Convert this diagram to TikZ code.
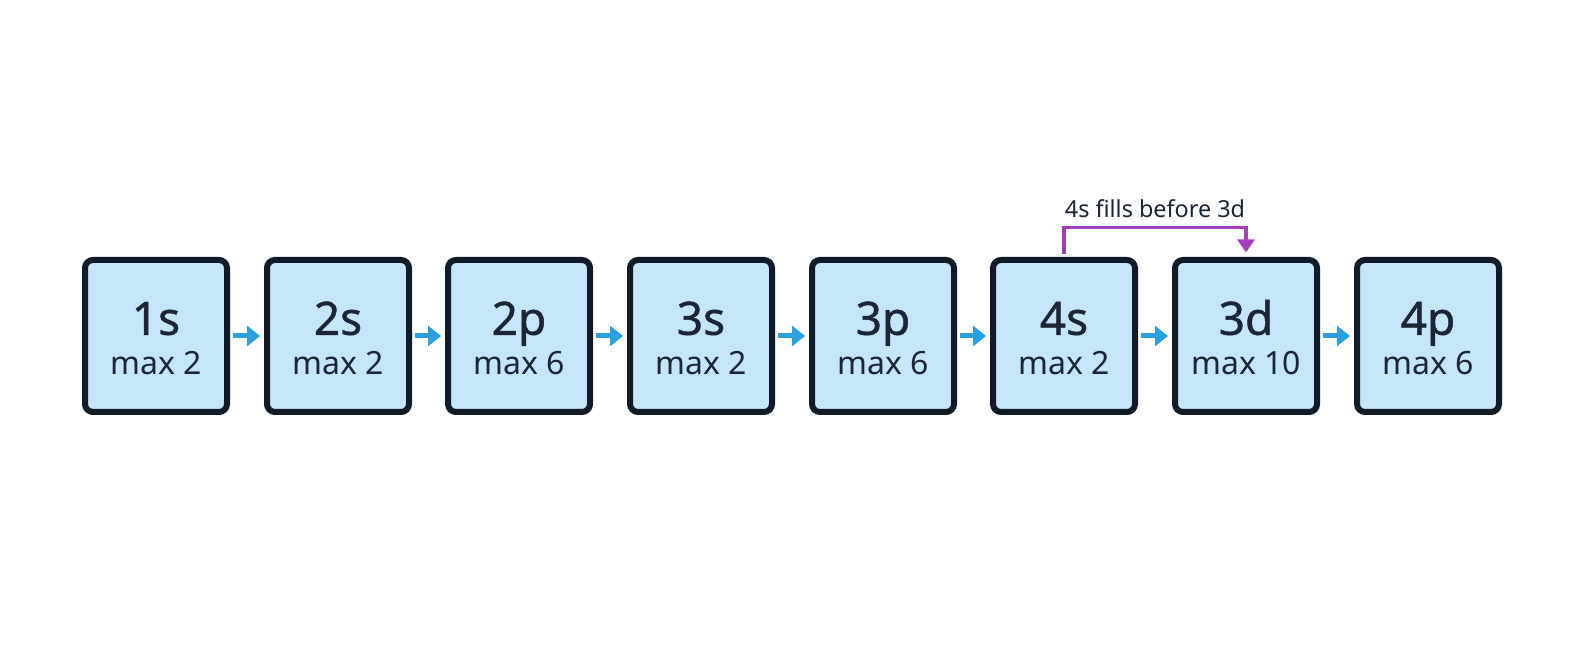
\documentclass[tikz,border=0pt]{standalone}
\usepackage{fontspec}
\usetikzlibrary{arrows.meta}

\setmainfont{Noto Sans}
\IfFontExistsTF{Noto Sans SemiBold}{\newfontfamily\medfont{Noto Sans SemiBold}}{%
	\IfFontExistsTF{Open Sans SemiBold}{\newfontfamily\medfont{Open Sans SemiBold}}{%
		\newfontfamily\medfont{Noto Sans}[FakeBold=0.9]}}

\definecolor{boxfill}{HTML}{C5E5F9}
\definecolor{boxline}{HTML}{101B2A}
\definecolor{flowblue}{HTML}{2AA0DC}
\definecolor{skippurple}{HTML}{A73BBD}
\definecolor{textdark}{HTML}{1B2535}

\newcommand\orb[2]{\rule{0pt}{19pt}{\medfont\fontsize{23}{25}\selectfont #1}\\max #2}

\tikzset{
	orbital/.style={draw=boxline, fill=boxfill, line width=3pt, rounded corners=4pt,
		minimum width=71pt, minimum height=76pt, inner sep=0pt, align=center,
		text=textdark, font=\fontsize{16}{20}\selectfont},
	flow/.style={flowblue, line width=2.5pt, -{Triangle[length=6.5pt,width=10pt]},
		shorten <=1.5pt, shorten >=2pt},
	skip/.style={skippurple, line width=1.6pt, -{Triangle[length=6.5pt,width=8.5pt]},
		shorten <=1.5pt, shorten >=2.3pt},
}

\begin{document}
\begin{tikzpicture}[x=0.5pt, y=-0.5pt]
	\fill[white] (0, 0) rectangle (1584, 672);
	\useasboundingbox (0, 0) rectangle (1584, 672);

	\node[orbital] (s1) at (156, 336) {\orb{1s}{2}};
	\node[orbital] (s2) at (338, 336) {\orb{2s}{2}};
	\node[orbital] (p2) at (519, 336) {\orb{2p}{6}};
	\node[orbital] (s3) at (701, 336) {\orb{3s}{2}};
	\node[orbital] (p3) at (883, 336) {\orb{3p}{6}};
	\node[orbital] (s4) at (1064, 336) {\orb{4s}{2}};
	\node[orbital] (d3) at (1246, 336) {\orb{3d}{10}};
	\node[orbital] (p4) at (1428, 336) {\orb{4p}{6}};

	\draw[flow] (s1) -- (s2);
	\draw[flow] (s2) -- (p2);
	\draw[flow] (p2) -- (s3);
	\draw[flow] (s3) -- (p3);
	\draw[flow] (p3) -- (s4);
	\draw[flow] (s4) -- (d3);
	\draw[flow] (d3) -- (p4);

	\draw[skip] (s4.north) -- ++(0, -29.7) -| (d3.north);
	\node[font=\fontsize{11.7}{14}\selectfont, text=textdark, anchor=base] (note) at (1155, 218) {4s fills before 3d};

\end{tikzpicture}
\end{document}
